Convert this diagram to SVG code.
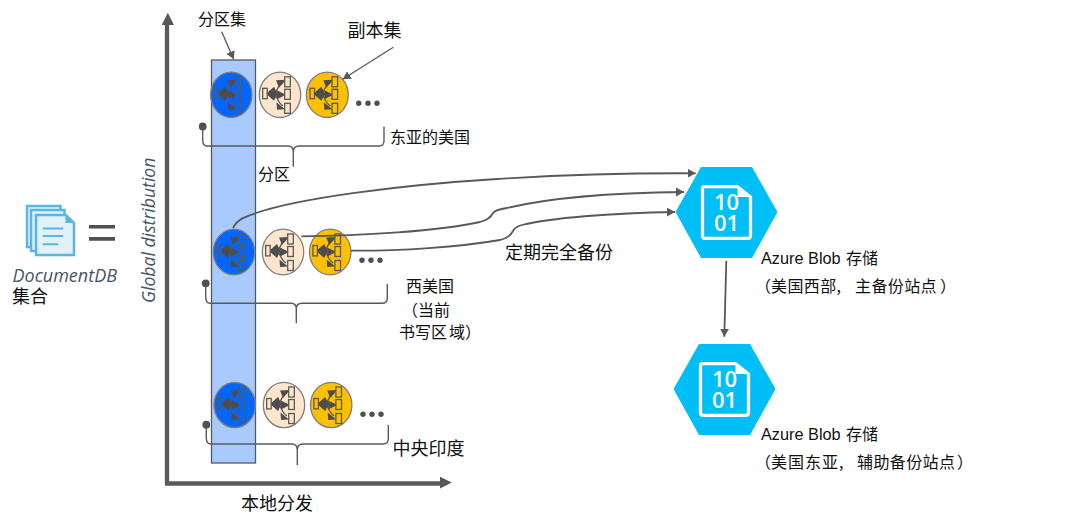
<svg xmlns="http://www.w3.org/2000/svg" width="1080" height="528" viewBox="0 0 1080 528">
<style>
text{font-family:"Noto Sans CJK SC","Liberation Sans",sans-serif;font-size:16px;fill:#111}
.lat{font-family:"Liberation Sans","Noto Sans CJK SC",sans-serif;font-size:16.300px}
.it{font-family:"Open Sans","Liberation Sans",sans-serif;font-style:italic;fill:#44546a}
.l18{font-size:18px}
.c{stroke:#595959;fill:none;stroke-width:1.800}
.t{stroke:#595959;fill:none;stroke-width:1.300}
.p{stroke:#595959;fill:none;stroke-width:1.300}
.ring{stroke:#7f7f7f;stroke-width:1.300}
.blue{fill:#0066ff;color:#0066ff}
.cream{fill:#fee6cc;color:#fee6cc}
.gold{fill:#ffc000;color:#ffc000}
.dots{fill:#505050}
.bn{stroke:#595959;fill:none;stroke-width:1.400}
.num{font-family:"Open Sans","Liberation Sans",sans-serif;font-weight:600;font-size:22px;fill:#fff;text-anchor:middle}
.pg{fill:#e0f1f9;stroke:#5bb8dd;stroke-width:2.500}
.pl{stroke:#5bb8dd;stroke-width:2}
</style>
<defs>
<marker id="a" markerUnits="userSpaceOnUse" markerWidth="10" markerHeight="10" refX="8" refY="4.500" orient="auto"><path d="M0 0L8 4.500L0 9z" fill="#595959"/></marker>
<g id="tree">
<path class="t" d="M-5-1C-2-7-1-11 3-12M-5-1H3M-5-1C-2 5-1 9 3 11"/>
<path fill="#4d4d4d" d="M-14-1L-6-8L-2.500-1L-6 6zM6-15L-4-14.500L-1-7zM6 0L-3-4.500V4.500zM5 14.500L-3.500 7.500L-3 15z"/>
<rect class="t" style="fill:currentColor" x="-17.300" y="-6.500" width="4.500" height="10.400"/>
<rect class="t" style="fill:currentColor" x="4.700" y="-18" width="5.600" height="10"/>
<rect class="t" style="fill:currentColor" x="4.700" y="-5.500" width="5.600" height="10"/>
<rect class="t" style="fill:currentColor" x="4.700" y="8.500" width="5.600" height="10"/>
</g>
<g id="blob">
<path fill="#00bef6" d="M0 0L25.500-45H76.500L102 0L76.500 46H25.500z"/>
<path fill="none" stroke="#fff" stroke-width="3.300" stroke-linejoin="round" d="M29-25.300H62L75-15V23.800Q75 26.300 72.500 26.300H29.500Q27 26.300 27 23.800V-23Q27-25.300 29-25.300z"/>
<path fill="#fff" d="M62-25L75-15H62z"/>
<text class="num" x="51" y="-2">10</text>
<text class="num" x="51" y="19">01</text>
</g>
</defs>

<g id="doc-icon">
<rect class="pg" x="27" y="206" width="33.500" height="41"/>
<rect class="pg" x="31" y="210" width="33.500" height="41"/>
<path class="pg" d="M36 215H66L74 223V255H36z"/>
<path fill="#5bb8dd" d="M65.500 214.500L74.500 223H65.500z"/>
<path class="pl" d="M42.700 228.500H63.300M42.700 236H63.300M42.700 244.300H58.300"/>
<text class="it" x="12.500" y="281.500" style="font-size:18px">DocumentDB</text>
<text class="l18" x="12" y="303">集合</text>
</g>
<g id="equals"><path fill="#505050" d="M89 225H115V228.500H89zM89 237H115V240.700H89z"/></g>

<g id="axes">
<path d="M167 484V25M165 483.500H440" stroke="#595959" stroke-width="4.300" fill="none"/>
<path d="M167.800 12.700L174 25H161.700zM451.700 482.500L440 476.700V488.500z" fill="#595959"/>
<text class="it" transform="translate(155 303) rotate(-90)" style="font-size:17.600px">Global distribution</text>
<text class="l18" x="241" y="510">本地分发</text>
</g>

<g id="partition-set">
<rect x="211.500" y="60" width="44" height="403" fill="#a9caff" stroke="#595959" stroke-width="1.300"/>
<text x="198" y="25">分区集</text>
</g>

<g id="region-1">
<g class="blue"><ellipse class="ring" cx="231.300" cy="94.800" rx="20.700" ry="22.700"/><use href="#tree" x="231.300" y="94.800"/></g>
<g class="cream"><ellipse class="ring" cx="280" cy="94.800" rx="20.700" ry="22.700"/><use href="#tree" x="280" y="94.800"/></g>
<g class="gold"><ellipse class="ring" cx="327.300" cy="94.800" rx="21" ry="22.700"/><use href="#tree" x="327.300" y="94.800"/></g>
<g class="dots"><circle cx="358.700" cy="103.300" r="2.700"/><circle cx="368" cy="103.300" r="2.700"/><circle cx="377" cy="103.300" r="2.700"/></g>
<circle cx="202.700" cy="126.500" r="3.900" fill="#505050"/>
<path class="bn" d="M202.700 127V140Q202.700 146 207 146H288Q293.300 146 293.300 152V166.700V152Q293.300 146 299 146H379Q384 146 384 141V126.700"/>
<text x="390" y="143">东亚的美国</text>
<text x="258" y="180">分区</text>
</g>

<g id="region-2">
<g class="blue"><ellipse class="ring" cx="234" cy="252" rx="20.700" ry="22.800"/><use href="#tree" x="234" y="252"/></g>
<g class="cream"><ellipse class="ring" cx="283" cy="252" rx="20.700" ry="22.800"/><use href="#tree" x="283" y="252"/></g>
<g class="gold"><ellipse class="ring" cx="330.200" cy="252" rx="20.700" ry="22.800"/><use href="#tree" x="330.200" y="252"/></g>
<g class="dots"><circle cx="362" cy="260.300" r="2.700"/><circle cx="371" cy="260.300" r="2.700"/><circle cx="380" cy="260.300" r="2.700"/></g>
<circle cx="205.700" cy="283.300" r="3.900" fill="#505050"/>
<path class="bn" d="M205.700 284V297Q205.700 303.300 210 303.300H291Q296.300 303.300 296.300 309V323.300V309Q296.300 303.300 302 303.300H382Q387.300 303.300 387.300 298V284"/>
<text x="406" y="292">西美国</text>
<text x="402" y="316">（当前</text>
<text x="399" y="338">书写区<tspan x="449">域）</tspan></text>
</g>

<g id="region-3">
<g class="blue"><ellipse class="ring" cx="234.700" cy="405" rx="20.700" ry="22.700"/><use href="#tree" x="234.700" y="405"/></g>
<g class="cream"><ellipse class="ring" cx="284" cy="405" rx="20.700" ry="22.700"/><use href="#tree" x="284" y="405"/></g>
<g class="gold"><ellipse class="ring" cx="331.200" cy="405" rx="20.700" ry="22.700"/><use href="#tree" x="331.200" y="405"/></g>
<g class="dots"><circle cx="363" cy="414.300" r="2.700"/><circle cx="372" cy="414.300" r="2.700"/><circle cx="381" cy="414.300" r="2.700"/></g>
<circle cx="206.300" cy="424.700" r="3.900" fill="#505050"/>
<path class="bn" d="M206.300 425V438Q206.300 444 211 444H292Q297.300 444 297.300 450V465V450Q297.300 444 303 444H383Q388.300 444 388.300 439V425"/>
<text class="l18" x="392.500" y="455">中央印度</text>
</g>

<text id="replica-label" class="l18" x="347.500" y="37">副本集</text>
<text id="backup-label" class="l18" x="505" y="259">定期完全备份</text>

<g id="blob-west">
<use href="#blob" x="675.500" y="212"/>
<text class="lat" x="761" y="264">Azure Blob <tspan x="846" style="font-size:16px">存储</tspan></text>
<text x="755" y="292">（<tspan x="771" letter-spacing=".4">美国西部,</tspan><tspan x="855" letter-spacing=".4">主备份站点</tspan><tspan x="940">）</tspan></text>
</g>
<g id="blob-east">
<use href="#blob" x="673.500" y="389"/>
<text class="lat" x="761" y="440">Azure Blob <tspan x="846" style="font-size:16px">存储</tspan></text>
<text x="755" y="468">（<tspan x="771" letter-spacing="1">美国东亚,</tspan><tspan x="857" letter-spacing=".4">辅助备份站点</tspan><tspan x="957">）</tspan></text>
</g>

<g id="connectors">
<path class="p" marker-end="url(#a)" d="M221.700 31.700L233.700 59.300"/>
<path class="p" marker-end="url(#a)" d="M393.300 47.300L342.700 79.300"/>
<path class="c" marker-end="url(#a)" d="M233 228C238 218 248 216 256 213C300 198 400 185 497 179C560 175 640 173 695.700 173.300"/>
<path class="c" marker-end="url(#a)" d="M301.300 236.300C360 236 440 231 480 222C488 220 491 217 493 213C495 210 500 209 507 208C540 200 600 193 684 192"/>
<path class="c" marker-end="url(#a)" d="M350.700 250.700C400 251 460 247 500 240C508 238 511 235 513 231C515 227 518 226 522 225C550 218 610 213 675 212"/>
<path class="c" marker-end="url(#a)" d="M726.300 261L724.300 336.700"/>
</g>
</svg>
